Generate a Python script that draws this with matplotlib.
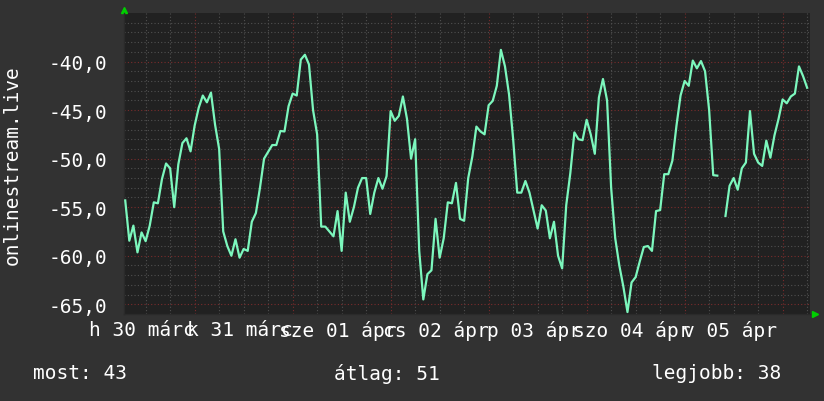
import numpy as np
import matplotlib
matplotlib.use('Agg')
import matplotlib.pyplot as plt

# hours counted from 2020-03-30 00:00, one sample per hour
start_hour = 7
rank = [
	-54.3, -58.45, -56.9, -59.65, -57.6, -58.5, -56.9, -54.5, -54.6, -52.1,
	-50.5, -51.0, -55.0, -50.6, -48.4, -47.9, -49.25, -46.6, -44.75, -43.5,
	-44.2, -43.2, -46.5, -49.0, -57.5, -59.0, -60.0, -58.3,
	-60.2, -59.3, -59.5, -56.5, -55.6, -53.0, -50.0, -49.3, -48.6, -48.6,
	-47.15, -47.2, -44.6, -43.3, -43.5, -39.8, -39.3, -40.3, -45.0, -47.5,
	-57.0, -57.0, -57.5, -58.0, -55.4, -59.5, -53.5, -56.5,
	-55.0, -53.0, -52.0, -52.0, -55.7, -53.5, -52.0, -53.1, -51.8, -45.1,
	-46.1, -45.6, -43.6, -45.9, -50.0, -48.0, -59.5, -64.5, -61.9, -61.5,
	-56.2, -60.2, -58.2, -54.5, -54.6, -52.5, -56.2, -56.4,
	-52.0, -49.8, -46.7, -47.2, -47.5, -44.5, -44.05, -42.5, -38.8, -40.5,
	-43.4, -48.0, -53.5, -53.5, -52.3, -53.5, -55.35, -57.2, -54.8, -55.35,
	-58.2, -56.5, -60.0, -61.3, -54.8, -51.5, -47.3, -48.0,
	-48.1, -46.0, -47.5, -49.5, -43.7, -41.8, -44.0, -53.0, -58.2, -61.0,
	-63.2, -65.8, -62.75, -62.2, -60.6, -59.1, -59.0, -59.5, -55.4, -55.3,
	-51.6, -51.6, -50.2, -46.6, -43.5, -42.0, -42.5, -39.9,
	-40.7, -39.95, -41.0, -45.0, -51.7, -51.75, np.nan, -55.9, -52.8, -52.0,
	-53.2, -51.0, -50.4, -45.1, -49.5, -50.4, -50.75, -48.15, -49.9, -47.6,
	-45.9, -43.9, -44.3, -43.6, -43.3, -40.5, -41.5, -42.7,
]
hours = start_hour + np.arange(len(rank))

day_labels = ['h 30 márc', 'k 31 márc', 'sze 01 ápr', 'cs 02 ápr',
	'p 03 ápr', 'szo 04 ápr', 'v 05 ápr']
label_hours = [11, 35, 59, 83, 107, 131, 155]
y_ticks = [-65, -60, -55, -50, -45, -40]
y_labels = ['-65,0', '-60,0', '-55,0', '-50,0', '-45,0', '-40,0']
footer = ['most: 43', 'átlag: 51', 'legjobb: 38']

bg = '#323232'
mono = 'DejaVu Sans Mono'

fig = plt.figure(figsize=(8.24, 4.02), dpi=100, facecolor=bg)
ax = fig.add_axes([124 / 824, 1 - 315 / 402, 686 / 824, 301 / 402])
ax.set_facecolor('#212121')
ax.set_xlim(6.7, 174.7)
ax.set_ylim(-66, -35)

# grid: minor gray every 6h / 1 unit, major red at midnight / 5 units
for h in range(12, 175, 6):
	if h % 24:
		ax.axvline(h, color='#505050', lw=0.8, ls=(0, (1, 2)), zorder=1)
for v in range(-65, -35):
	if v % 5:
		ax.axhline(v, color='#505050', lw=0.8, ls=(0, (1, 2)), zorder=1)
for h in range(24, 175, 24):
	ax.axvline(h, color='#7a2c2c', lw=0.8, ls=(0, (1, 2)), zorder=1)
for v in y_ticks:
	ax.axhline(v, color='#7a2c2c', lw=0.8, ls=(0, (1, 2)), zorder=1)

ax.plot(hours, rank, color='#7cf7bd', lw=1.6, zorder=3)

ax.set_xticks(label_hours)
ax.set_xticklabels(day_labels)
ax.set_yticks(y_ticks)
ax.set_yticklabels(y_labels)
ax.tick_params(axis='x', length=0, pad=4, labelsize=14, labelcolor='white')
ax.tick_params(axis='y', length=0, pad=12, labelsize=14, labelcolor='white')
for lbl in ax.get_xticklabels() + ax.get_yticklabels():
	lbl.set_family(mono)
for s in ax.spines.values():
	s.set_color('#2a2a2a')
	s.set_linewidth(1)
ax.spines['top'].set_visible(False)
ax.spines['right'].set_visible(False)

# the little green arrows of the axes
ax.plot([0], [1.01], marker='^', color='#00d000', ms=5, transform=ax.transAxes, clip_on=False)
ax.plot([1.007], [0.0], marker='>', color='#00d000', ms=5, transform=ax.transAxes, clip_on=False)

fig.text(12 / 824, 1 - 165 / 402, 'onlinestream.live', rotation=90, color='white',
	family=mono, fontsize=14, ha='center', va='center')
fig.text(33 / 824, 1 - 374 / 402, footer[0], color='white', family=mono, fontsize=14, va='center')
fig.text(334 / 824, 1 - 374 / 402, footer[1], color='white', family=mono, fontsize=14, va='center')
fig.text(652 / 824, 1 - 374 / 402, footer[2], color='white', family=mono, fontsize=14, va='center')

fig.savefig('out.png', dpi=100, facecolor=bg)
